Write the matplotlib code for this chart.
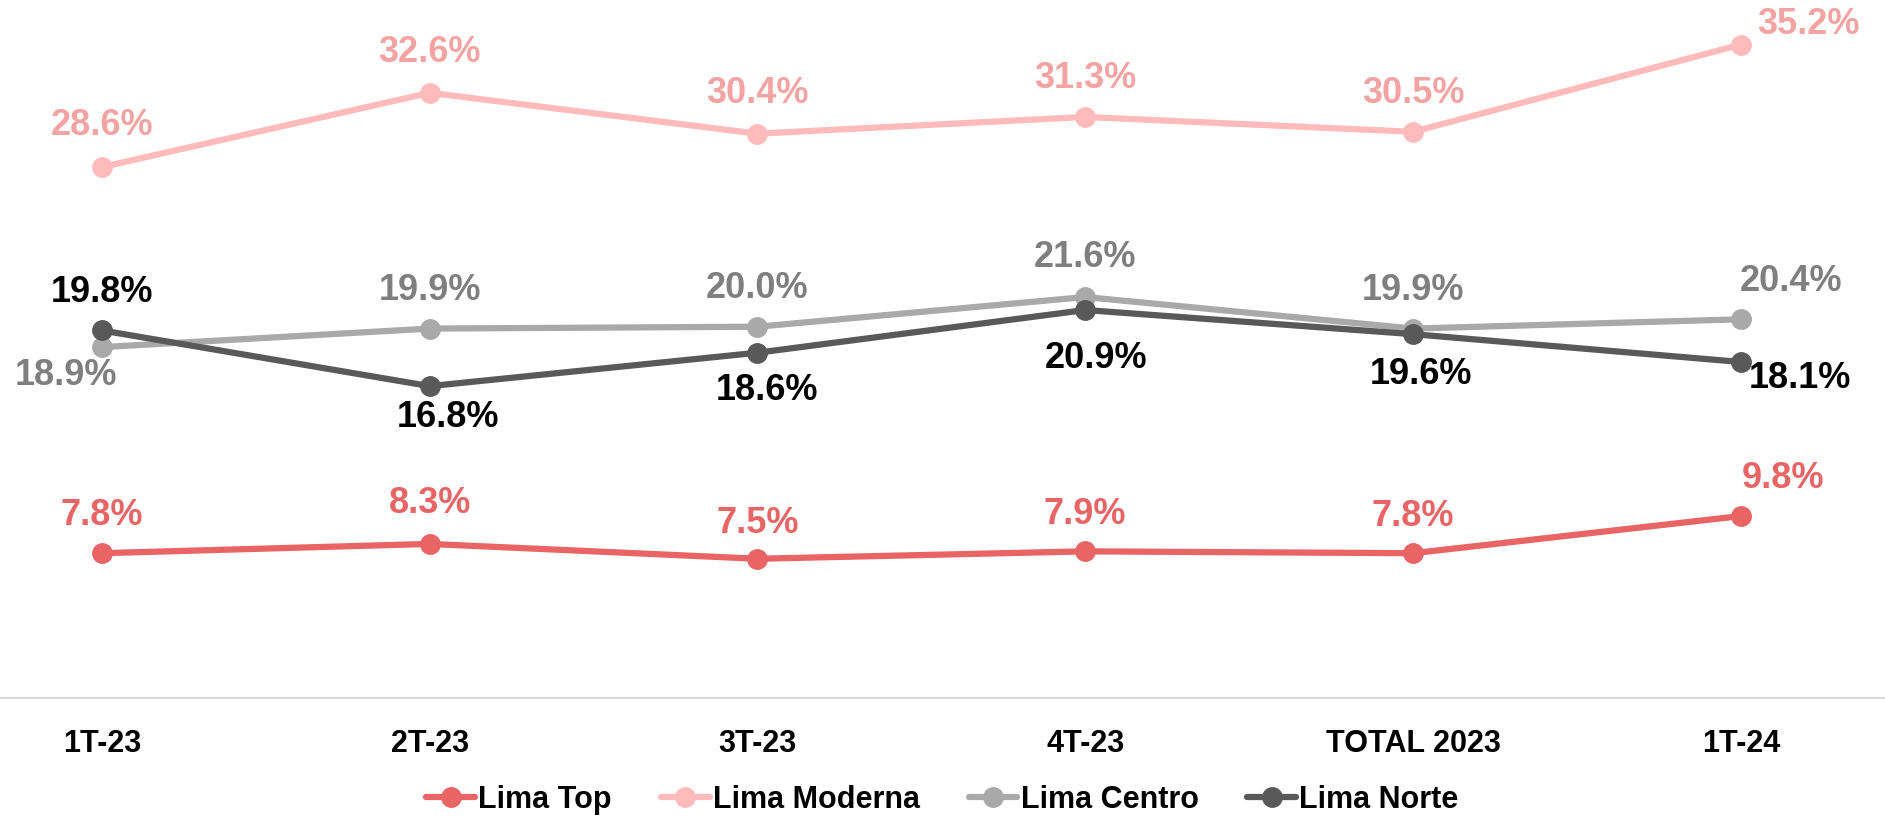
import matplotlib.pyplot as plt

plt.rcParams['font.family'] = ['Liberation Sans', 'DejaVu Sans']

periods = ['1T-23', '2T-23', '3T-23', '4T-23', 'TOTAL 2023', '1T-24']

lima_top = [7.8, 8.3, 7.5, 7.9, 7.8, 9.8]
lima_moderna = [28.6, 32.6, 30.4, 31.3, 30.5, 35.2]
lima_centro = [18.9, 19.9, 20.0, 21.6, 19.9, 20.4]
lima_norte = [19.8, 16.8, 18.6, 20.9, 19.6, 18.1]

# (name, values, line colour, label colour, label offsets in pixels)
series = [
    ('Lima Top', lima_top, '#E96464', '#E96464',
     [(0, 38), (0, 40), (0, 35), (0, 37), (0, 37), (42, 38)]),
    ('Lima Moderna', lima_moderna, '#FFBBBB', '#F4A3A3',
     [(0, 42), (0, 40), (0, 40), (0, 38), (0, 38), (68, 20)]),
    ('Lima Centro', lima_centro, '#A9A9A9', '#7F7F7F',
     [(-36, -28), (0, 38), (0, 38), (0, 40), (0, 38), (50, 38)]),
    ('Lima Norte', lima_norte, '#595959', '#000000',
     [(0, 38), (18, -31), (10, -38), (11, -48), (8, -40), (59, -17)]),
]

fig = plt.figure(figsize=(18.85, 8.18), dpi=100)
ax = fig.add_axes([0, 0.1467, 1, 0.8533])

x = list(range(len(periods)))
for name, vals, lc, tc, offs in series:
    ax.plot(x, vals, color=lc, lw=4.5, marker='o', markersize=14, label=name,
            solid_capstyle='round')
    for xi, v, (dx, dy) in zip(x, vals, offs):
        ax.annotate(f'{v:.1f}%', (xi, v), xytext=(dx, dy), textcoords='offset pixels',
                    ha='center', va='center', fontsize=26, fontweight='bold', color=tc)

ax.set_xlim(-0.311, 5.44)
ax.set_ylim(0, 37.6)
ax.set_yticks([])
ax.set_xticks(x)
ax.set_xticklabels(periods, fontsize=22, fontweight='bold')
ax.tick_params(axis='x', length=0, pad=22)
for s in ['top', 'right', 'left']:
    ax.spines[s].set_visible(False)
ax.spines['bottom'].set_color('#D9D9D9')
ax.spines['bottom'].set_linewidth(1.5)

ax.legend(loc='center', bbox_to_anchor=(0.5, -0.146), ncol=4, frameon=False,
          prop={'size': 22, 'weight': 'bold'}, handlelength=1.6, handletextpad=0.1,
          columnspacing=1.6, borderpad=0)

fig.savefig('out.png', dpi=100)
